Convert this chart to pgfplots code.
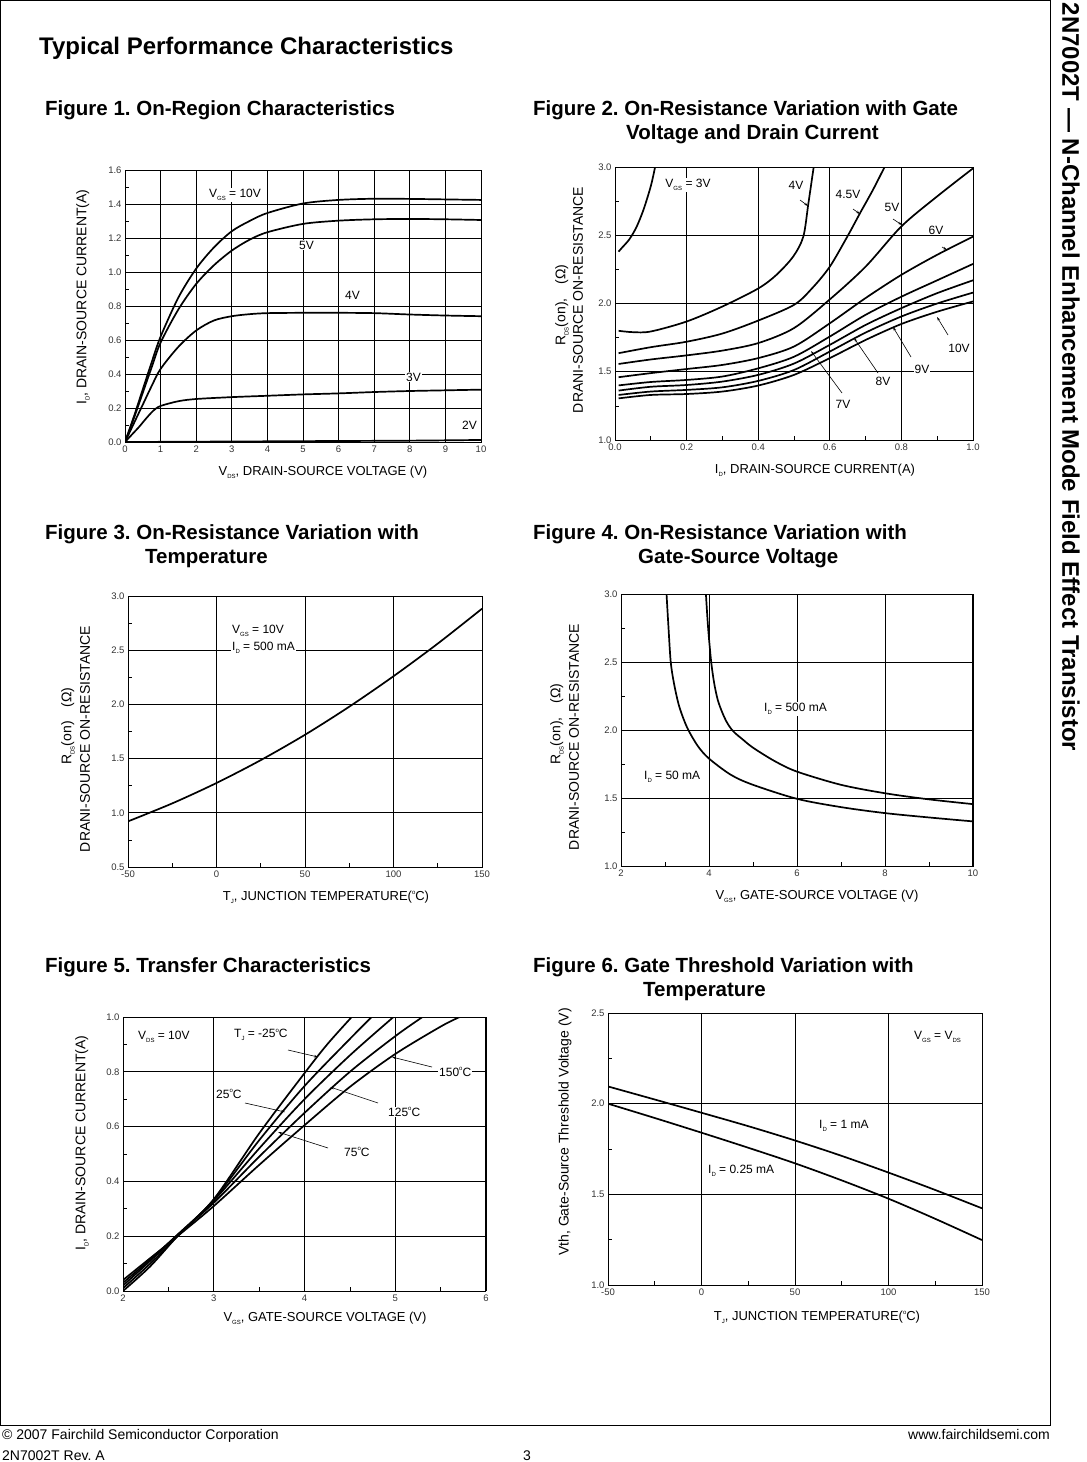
\documentclass[border=0pt]{standalone}
\usepackage{fontspec}
\setmainfont{Liberation Sans}
\usepackage{pgfplots}
\pgfplotsset{compat=1.18}
\usetikzlibrary{arrows.meta}
\frenchspacing

\newcommand\fs[1]{\fontsize{#1}{#1}\selectfont}
\newcommand\sub[1]{\raisebox{-0.45ex}{\fs{6}#1}}
\newcommand\dg{\raisebox{0.85ex}{\fs{6}o}}
\newcommand\lf{\fs{12}}
\newcommand\af{\fs{13}}
\newcommand\yf{\fs{14}}

\pgfplotsset{
  ds/.style={
    scale only axis, anchor=north west,
    axis line style={line width=1pt},
    grid=major, major grid style={line width=0.9pt, black},
    major tick length=0pt, minor tick length=4pt, tick align=inside,
    xtick pos=left, ytick pos=left,
    minor tick style={line width=0.7pt, black},
    tick label style={font=\fs{9.5}, text=black!80},
  },
  plt/.style={black, solid, mark=none, line width=1.7pt, smooth, tension=0.5},
}

\begin{document}
\begin{tikzpicture}[x=1pt,y=1pt]
\useasboundingbox (0,0) rectangle (1087,-1462);
\draw[line width=1pt] (0.5,-0.5) rectangle (1050.5,-1425);

% page heading, side title, footer
\node[anchor=base west, font=\fs{24}\bfseries, inner sep=0] at (39,-54) {Typical Performance Characteristics};
\node[rotate=-90, font=\fs{24}\bfseries, inner sep=0] at (1071,-377) {2N7002T — N-Channel Enhancement Mode Field Effect Transistor};
\node[anchor=base west, font=\fs{14}, inner sep=0] at (2,-1439) {© 2007 Fairchild Semiconductor Corporation};
\node[anchor=base east, font=\fs{14}, inner sep=0] at (1050,-1439) {www.fairchildsemi.com};
\node[anchor=base west, font=\fs{14}, inner sep=0] at (2,-1460) {2N7002T Rev. A};
\node[anchor=base, font=\fs{14}, inner sep=0] at (527,-1460) {3};

% figure titles
\begin{scope}[every node/.style={anchor=base west, font=\fs{20.5}\bfseries, inner sep=0}]
\node at (45,-115) {Figure 1. On-Region Characteristics};
\node at (533,-115) {Figure 2. On-Resistance Variation with Gate};
\node at (626,-139) {Voltage and Drain Current};
\node at (45,-539) {Figure 3. On-Resistance Variation with};
\node at (145,-563) {Temperature};
\node at (533,-539) {Figure 4. On-Resistance Variation with};
\node at (638,-563) {Gate-Source Voltage};
\node at (45,-972) {Figure 5. Transfer Characteristics};
\node at (533,-972) {Figure 6. Gate Threshold Variation with};
\node at (643,-996) {Temperature};
\end{scope}

% ---------------- Figure 1
\begin{axis}[ds, at={(125pt,-170pt)}, width=356pt, height=272pt,
  xmin=0, xmax=10, ymin=0, ymax=1.6,
  xtick={0,1,2,3,4,5,6,7,8,9,10}, xticklabels={0,1,2,3,4,5,6,7,8,9,10},
  ytick={0,0.2,0.4,0.6,0.8,1.0,1.2,1.4,1.6},
  yticklabels={0.0,0.2,0.4,0.6,0.8,1.0,1.2,1.4,1.6},
  minor y tick num=1]
\addplot[plt] coordinates {(0,0) (0.25,0.15) (0.5,0.31) (0.75,0.47) (1,0.62) (1.5,0.85) (2,1.02) (2.5,1.145) (3,1.24) (3.5,1.30) (4,1.347) (5,1.403) (6,1.424) (7,1.431) (8,1.43) (9,1.427) (10,1.424)};
\addplot[plt] coordinates {(0,0) (0.25,0.14) (0.5,0.29) (0.75,0.44) (1,0.585) (1.5,0.78) (2,0.93) (2.5,1.04) (3,1.126) (3.5,1.19) (4,1.234) (5,1.283) (6,1.302) (7,1.31) (8,1.312) (9,1.31) (10,1.306)};
\addplot[plt] coordinates {(0,0) (0.25,0.11) (0.5,0.22) (0.75,0.33) (1,0.43) (1.5,0.56) (2,0.656) (2.5,0.715) (3,0.74) (3.5,0.752) (4,0.758) (5,0.76) (6,0.76) (7,0.758) (8,0.75) (9,0.744) (10,0.74)};
\addplot[plt] coordinates {(0,0) (0.2,0.045) (0.4,0.09) (0.6,0.14) (0.8,0.185) (1,0.212) (1.5,0.24) (2,0.253) (3,0.264) (4,0.272) (5,0.28) (6,0.286) (7,0.294) (8,0.3) (9,0.304) (10,0.308)};
\addplot[plt] coordinates {(0,0) (2,0.002) (5,0.005) (8,0.008) (10,0.012)};
\end{axis}
\node[rotate=90, font=\yf] at (83,-297) {I\sub{D}, DRAIN-SOURCE CURRENT(A)};
\node[font=\af] at (323,-472) {V\sub{DS}, DRAIN-SOURCE VOLTAGE (V)};
\begin{scope}[every node/.style={anchor=west, font=\lf, inner sep=1pt, fill=white}]
\node at (208,-195) {V\sub{GS} = 10V};
\node at (298,-245) {5V};
\node at (344,-295) {4V};
\node at (405,-377) {3V};
\node[fill=none] at (461,-425) {2V};
\end{scope}

% ---------------- Figure 2
\begin{axis}[ds, at={(615pt,-167pt)}, width=358pt, height=273pt,
  xmin=0, xmax=1, ymin=1, ymax=3,
  xtick={0,0.2,0.4,0.6,0.8,1}, xticklabels={0.0,0.2,0.4,0.6,0.8,1.0},
  ytick={1,1.5,2,2.5,3}, yticklabels={1.0,1.5,2.0,2.5,3.0},
  minor x tick num=1, minor y tick num=1]
\addplot[plt] coordinates {(0.01,2.38) (0.02,2.41) (0.04,2.47) (0.06,2.56) (0.08,2.69) (0.1,2.86) (0.112,3.0) (0.115,3.05)};
\addplot[plt] coordinates {(0.01,1.80) (0.05,1.79) (0.1,1.795) (0.2,1.868) (0.3,1.978) (0.4,2.11) (0.451,2.21) (0.498,2.345) (0.526,2.49) (0.54,2.73) (0.555,3.0) (0.558,3.05)};
\addplot[plt] coordinates {(0.01,1.636) (0.1,1.68) (0.2,1.72) (0.3,1.78) (0.4,1.875) (0.5,1.99) (0.55,2.11) (0.6,2.27) (0.651,2.5) (0.684,2.66) (0.72,2.83) (0.753,3.0) (0.762,3.05)};
\addplot[plt] coordinates {(0.01,1.557) (0.1,1.59) (0.2,1.62) (0.3,1.655) (0.4,1.71) (0.5,1.82) (0.6,2.03) (0.7,2.27) (0.8,2.565) (0.9,2.785) (1.0,2.99)};
\addplot[plt] coordinates {(0.01,1.46) (0.1,1.49) (0.2,1.52) (0.3,1.55) (0.4,1.60) (0.5,1.685) (0.6,1.855) (0.7,2.04) (0.8,2.21) (0.9,2.357) (1.0,2.49)};
\addplot[plt] coordinates {(0.01,1.40) (0.1,1.425) (0.2,1.44) (0.3,1.465) (0.4,1.525) (0.5,1.61) (0.6,1.758) (0.7,1.917) (0.8,2.05) (0.9,2.17) (1.0,2.29)};
\addplot[plt] coordinates {(0.01,1.362) (0.1,1.39) (0.2,1.403) (0.3,1.428) (0.4,1.477) (0.5,1.56) (0.6,1.697) (0.7,1.843) (0.8,1.966) (0.9,2.076) (1.0,2.17)};
\addplot[plt] coordinates {(0.01,1.33) (0.1,1.355) (0.2,1.367) (0.3,1.386) (0.4,1.433) (0.5,1.513) (0.6,1.648) (0.7,1.787) (0.8,1.905) (0.9,2.0) (1.0,2.08)};
\addplot[plt] coordinates {(0.01,1.305) (0.1,1.33) (0.2,1.337) (0.3,1.355) (0.4,1.399) (0.5,1.477) (0.6,1.6) (0.7,1.733) (0.8,1.85) (0.9,1.94) (1.0,2.015)};
\end{axis}
\node[rotate=90, font=\yf] at (562,-305) {R\sub{DS}(on),\quad(Ω)};
\node[rotate=90, font=\yf] at (578,-300) {DRANI-SOURCE ON-RESISTANCE};
\node[font=\af] at (815,-470) {I\sub{D}, DRAIN-SOURCE CURRENT(A)};
\begin{scope}[every node/.style={font=\lf, inner sep=1pt, fill=white}]
\node at (688,-185) {V\sub{GS} = 3V};
\node at (796,-185) {4V};
\node at (848,-194) {4.5V};
\node at (892,-207) {5V};
\node at (936,-230) {6V};
\node at (959,-348) {10V};
\node at (922,-369) {9V};
\node at (883,-381) {8V};
\node at (843,-404) {7V};
\end{scope}
\begin{scope}[line width=0.6pt, -{Stealth[length=4pt,width=2.5pt]}]
\draw (800,-200) -- (808,-206);
\draw (853,-209) -- (860,-214);
\draw (893,-219) -- (902,-225);
\draw (942,-247) -- (947,-250);
\draw (948,-335) -- (937,-317);
\draw (911,-357) -- (893,-327);
\draw (878,-373) -- (854,-338);
\draw (842,-393) -- (811,-351);
\end{scope}

% ---------------- Figure 3
\begin{axis}[ds, at={(128pt,-596pt)}, width=354pt, height=271pt,
  xmin=-50, xmax=150, ymin=0.5, ymax=3,
  xtick={-50,0,50,100,150}, xticklabels={-50,0,50,100,150},
  ytick={0.5,1,1.5,2,2.5,3}, yticklabels={0.5,1.0,1.5,2.0,2.5,3.0},
  minor x tick num=1, minor y tick num=1]
\addplot[plt] coordinates {(-50,0.921) (-25,1.087) (0,1.275) (25,1.486) (50,1.72) (75,1.979) (100,2.26) (125,2.561) (150,2.883)};
\end{axis}
\node[rotate=90, font=\yf] at (68,-726) {R\sub{DS}(on)\quad(Ω)};
\node[rotate=90, font=\yf] at (85,-739) {DRANI-SOURCE ON-RESISTANCE};
\node[font=\af] at (326,-897) {T\sub{J}, JUNCTION TEMPERATURE(\dg C)};
\begin{scope}[every node/.style={anchor=west, font=\lf, inner sep=1pt, fill=white}]
\node at (231,-631) {V\sub{GS} = 10V};
\node at (231,-648) {I\sub{D} = 500 mA};
\end{scope}

% ---------------- Figure 4
\begin{axis}[ds, at={(621pt,-594pt)}, width=352pt, height=272pt,
  xmin=2, xmax=10, ymin=1, ymax=3,
  xtick={2,4,6,8,10}, xticklabels={2,4,6,8,10},
  ytick={1,1.5,2,2.5,3}, yticklabels={1.0,1.5,2.0,2.5,3.0},
  minor x tick num=1, minor y tick num=1]
\addplot[plt] coordinates {(3.03,3.05) (3.035,3.0) (3.08,2.75) (3.13,2.5) (3.2,2.35) (3.3,2.2) (3.4,2.1) (3.53,2.0) (3.75,1.88) (4,1.79) (4.5,1.67) (5,1.597) (6,1.494) (7,1.433) (8,1.389) (9,1.357) (10,1.328)};
\addplot[plt] coordinates {(3.925,3.05) (3.93,3.0) (3.98,2.75) (4.05,2.5) (4.12,2.34) (4.2,2.22) (4.3,2.13) (4.4,2.06) (4.5,2.01) (4.6,1.975) (4.75,1.935) (5,1.87) (5.5,1.77) (6,1.694) (7,1.597) (8,1.535) (9,1.49) (10,1.455)};
\end{axis}
\node[rotate=90, font=\yf] at (557,-724) {R\sub{DS}(on),\quad(Ω)};
\node[rotate=90, font=\yf] at (574,-737) {DRANI-SOURCE ON-RESISTANCE};
\node[font=\af] at (817,-896) {V\sub{GS}, GATE-SOURCE VOLTAGE (V)};
\begin{scope}[every node/.style={anchor=west, font=\lf, inner sep=1pt, fill=white}]
\node at (763,-709) {I\sub{D} = 500 mA};
\node at (643,-777) {I\sub{D} = 50 mA};
\end{scope}

% ---------------- Figure 5
\begin{axis}[ds, at={(123pt,-1017pt)}, width=363pt, height=274pt,
  xmin=2, xmax=6, ymin=0, ymax=1,
  xtick={2,3,4,5,6}, xticklabels={2,3,4,5,6},
  ytick={0,0.2,0.4,0.6,0.8,1}, yticklabels={0.0,0.2,0.4,0.6,0.8,1.0},
  minor x tick num=1, minor y tick num=1]
\addplot[plt] coordinates {(2,0.0) (2.3,0.09) (2.6,0.2) (3,0.335) (3.5,0.575) (4,0.795) (4.25,0.9) (4.52,1.0) (4.55,1.01)};
\addplot[plt] coordinates {(2,0.01) (2.3,0.1) (2.6,0.2) (3,0.333) (3.5,0.55) (4,0.748) (4.5,0.92) (4.74,1.0) (4.77,1.01)};
\addplot[plt] coordinates {(2,0.02) (2.3,0.11) (2.6,0.205) (3,0.33) (3.5,0.52) (4,0.70) (4.5,0.86) (4.98,1.0) (5.01,1.008)};
\addplot[plt] coordinates {(2,0.03) (2.3,0.115) (2.6,0.205) (3,0.322) (3.5,0.49) (4,0.65) (4.5,0.80) (5,0.93) (5.3,1.0) (5.33,1.006)};
\addplot[plt] coordinates {(2,0.04) (2.3,0.12) (2.6,0.2) (3,0.31) (3.5,0.46) (4,0.605) (4.5,0.745) (5,0.865) (5.5,0.965) (5.71,1.0) (5.75,1.004)};
\end{axis}
\node[rotate=90, font=\yf] at (82,-1143) {I\sub{D}, DRAIN-SOURCE CURRENT(A)};
\node[font=\af] at (325,-1318) {V\sub{GS}, GATE-SOURCE VOLTAGE (V)};
\begin{scope}[every node/.style={anchor=west, font=\lf, inner sep=1pt, fill=white}]
\node at (137,-1037) {V\sub{DS} = 10V};
\node at (233,-1035) {T\sub{J} = -25\dg C};
\node at (215,-1094) {25\dg C};
\node at (343,-1152) {75\dg C};
\node at (387,-1112) {125\dg C};
\node at (438,-1072) {150\dg C};
\end{scope}
\begin{scope}[line width=0.6pt, -{Stealth[length=4pt,width=2.5pt]}]
\draw (288,-1050) -- (318,-1057);
\draw (245,-1103) -- (285,-1112);
\draw (328,-1148) -- (278,-1132);
\draw (378,-1103) -- (330,-1087);
\draw (432,-1067) -- (392,-1057);
\end{scope}

% ---------------- Figure 6
\begin{axis}[ds, at={(608pt,-1013pt)}, width=374pt, height=272pt,
  xmin=-50, xmax=150, ymin=1, ymax=2.5,
  xtick={-50,0,50,100,150}, xticklabels={-50,0,50,100,150},
  ytick={1,1.5,2,2.5}, yticklabels={1.0,1.5,2.0,2.5},
  minor x tick num=1, minor y tick num=1]
\addplot[plt] coordinates {(-50,2.095) (-25,2.023) (0,1.950) (25,1.876) (50,1.797) (75,1.712) (100,1.620) (125,1.524) (150,1.423)};
\addplot[plt] coordinates {(-50,2.0) (-25,1.921) (0,1.840) (25,1.757) (50,1.671) (75,1.577) (100,1.476) (125,1.365) (150,1.248)};
\end{axis}
\node[rotate=90, font=\yf] at (565,-1132) {Vth, Gate-Source Threshold Voltage (V)};
\node[font=\af] at (817,-1317) {T\sub{J}, JUNCTION TEMPERATURE(\dg C)};
\begin{scope}[every node/.style={anchor=west, font=\lf, inner sep=1pt}]
\node at (913,-1037) {V\sub{GS} = V\sub{DS}};
\node at (818,-1126) {I\sub{D} = 1 mA};
\node at (707,-1171) {I\sub{D} = 0.25 mA};
\end{scope}
\end{tikzpicture}
\end{document}
